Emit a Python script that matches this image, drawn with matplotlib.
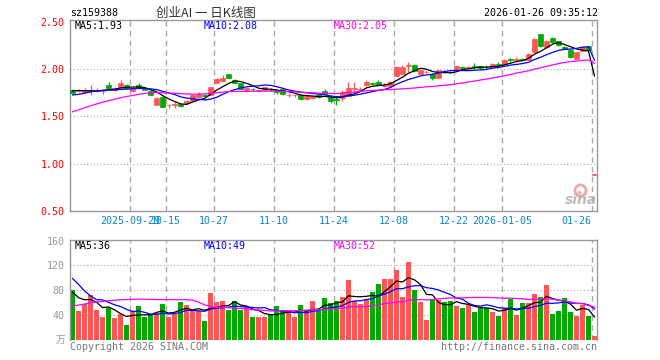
import numpy as np
import pandas as pd
import matplotlib
matplotlib.use("Agg")
import matplotlib.pyplot as plt

# daily bars, 88 sessions, last one is the (odd) intraday print of 01-26
opens = [1.78, 1.765, 1.76, 1.765, 1.77, 1.765, 1.835, 1.775, 1.81, 1.835,
         1.765, 1.83, 1.80, 1.77, 1.625, 1.705, 1.615, 1.625, 1.63, 1.64,
         1.665, 1.70, 1.725, 1.73, 1.855, 1.87, 1.945, 1.885, 1.85, 1.77,
         1.79, 1.77, 1.78, 1.78, 1.78, 1.79, 1.725, 1.725, 1.725, 1.68,
         1.69, 1.73, 1.77, 1.70, 1.68, 1.69, 1.72, 1.79, 1.78, 1.83,
         1.85, 1.86, 1.82, 1.825, 1.93, 1.95, 2.03, 2.045, 1.95, 1.965,
         1.95, 1.905, 1.98, 1.97, 1.985, 2.025, 2.01, 2.035, 2.03, 2.025,
         2.02, 2.055, 2.05, 2.105, 2.10, 2.11, 2.10, 2.18, 2.37, 2.23,
         2.33, 2.295, 2.23, 2.205, 2.11, 2.195, 2.24, 0.885]
highs = [1.785, 1.785, 1.80, 1.835, 1.80, 1.79, 1.86, 1.81, 1.88, 1.84,
         1.81, 1.85, 1.81, 1.775, 1.70, 1.71, 1.635, 1.65, 1.64, 1.67,
         1.74, 1.76, 1.735, 1.815, 1.90, 1.935, 1.95, 1.895, 1.855, 1.805,
         1.80, 1.79, 1.81, 1.795, 1.79, 1.80, 1.745, 1.74, 1.73, 1.725,
         1.72, 1.74, 1.785, 1.705, 1.71, 1.78, 1.865, 1.865, 1.81, 1.88,
         1.865, 1.88, 1.85, 1.87, 2.03, 2.04, 2.07, 2.05, 1.99, 1.985,
         1.955, 1.995, 1.99, 1.98, 2.035, 2.035, 2.03, 2.06, 2.035, 2.045,
         2.06, 2.07, 2.105, 2.115, 2.125, 2.12, 2.165, 2.325, 2.375, 2.305,
         2.34, 2.30, 2.24, 2.21, 2.185, 2.24, 2.245, 0.895]
lows = [1.74, 1.755, 1.75, 1.73, 1.76, 1.735, 1.79, 1.77, 1.80, 1.795,
        1.76, 1.79, 1.775, 1.725, 1.62, 1.595, 1.59, 1.59, 1.595, 1.635,
        1.66, 1.69, 1.715, 1.725, 1.85, 1.86, 1.905, 1.845, 1.78, 1.76,
        1.77, 1.76, 1.775, 1.765, 1.735, 1.73, 1.705, 1.70, 1.675, 1.675,
        1.685, 1.695, 1.73, 1.64, 1.62, 1.66, 1.71, 1.75, 1.77, 1.825,
        1.83, 1.83, 1.81, 1.82, 1.925, 1.945, 1.97, 1.97, 1.945, 1.955,
        1.88, 1.90, 1.96, 1.955, 1.98, 2.005, 2.0, 2.0, 2.0, 2.005,
        2.01, 2.03, 2.045, 2.07, 2.09, 2.09, 2.095, 2.175, 2.235, 2.225,
        2.28, 2.245, 2.21, 2.12, 2.105, 2.19, 2.20, 0.88]
closes = [1.745, 1.77, 1.775, 1.78, 1.775, 1.775, 1.80, 1.80, 1.85, 1.80,
          1.80, 1.795, 1.78, 1.73, 1.695, 1.60, 1.625, 1.635, 1.605, 1.665,
          1.725, 1.735, 1.72, 1.81, 1.89, 1.905, 1.91, 1.85, 1.785, 1.795,
          1.785, 1.775, 1.805, 1.775, 1.755, 1.735, 1.73, 1.73, 1.68, 1.72,
          1.715, 1.70, 1.735, 1.66, 1.67, 1.755, 1.80, 1.80, 1.79, 1.86,
          1.84, 1.835, 1.835, 1.86, 2.02, 2.02, 2.04, 1.975, 1.985, 1.97,
          1.90, 1.985, 1.975, 1.965, 2.03, 2.015, 2.025, 2.025, 2.01, 2.02,
          2.05, 2.04, 2.10, 2.095, 2.11, 2.10, 2.16, 2.32, 2.24, 2.30,
          2.29, 2.25, 2.215, 2.125, 2.18, 2.23, 2.205, 0.89]
volumes = [80, 46, 58, 72, 48, 37, 51, 35, 42, 24,
           46, 54, 37, 42, 43, 58, 37, 43, 61, 56,
           46, 46, 30, 76, 61, 62, 48, 62, 49, 53,
           37, 37, 37, 40, 54, 48, 45, 37, 56, 46,
           62, 47, 68, 60, 62, 70, 96, 62, 58, 66,
           77, 90, 98, 98, 112, 69, 125, 80, 61, 32,
           65, 65, 61, 62, 55, 51, 58, 45, 52, 52,
           45, 39, 51, 66, 40, 60, 60, 74, 70, 88,
           42, 47, 67, 45, 39, 56, 39, 6]

# sessions before the window, only needed to start the moving averages
prev_close = [1.12, 1.14, 1.16, 1.19, 1.22, 1.30, 1.35, 1.38, 1.42, 1.46,
              1.44, 1.47, 1.55, 1.62, 1.66, 1.70, 1.72, 1.74, 1.75, 1.79,
              1.70, 1.66, 1.64, 1.68, 1.73, 1.75, 1.79, 1.78, 1.78]
prev_vol = [8, 9, 10, 11, 12, 12, 14, 18, 20, 30,
            40, 45, 50, 55, 56, 40, 50, 55, 60, 65,
            140, 165, 150, 110, 40, 90, 75, 70, 70]

tick_idx = [10, 16, 24, 34, 44, 54, 64, 72, 87]
tick_labels = ["2025-09-29", "10-15", "10-27", "11-10", "11-24", "12-08",
               "12-22", "2026-01-05", "01-26"]

price_legend = ["MA5:1.93", "MA10:2.08", "MA30:2.05"]
vol_legend = ["MA5:36", "MA10:49", "MA30:52"]
ma_colors = ["black", "#0000ff", "#ff00ff"]

RED = "#ff5555"
GREEN = "#00a800"
GRID = "#aaaaaa"
DATE_BLUE = "#0a84c8"
MONO = "DejaVu Sans Mono"
CJK = ["Noto Sans CJK SC", "DejaVu Sans"]

n = len(closes)
x = np.arange(n)
o = np.array(opens)
c = np.array(closes)
up = c >= o
colors = [RED if u else GREEN for u in up]

close_all = pd.Series(prev_close + closes)
vol_all = pd.Series(prev_vol + volumes)
skip = len(prev_close)


def px(xp, yp):
    return xp / 660, 1 - yp / 360


fig = plt.figure(figsize=(6.6, 3.6), dpi=100)
ax = fig.add_axes([70 / 660, 1 - 211 / 360, 527 / 660, 191 / 360])
axv = fig.add_axes([70 / 660, 1 - 340 / 360, 527 / 660, 100 / 360])

for a in (ax, axv):
    a.set_xlim(-0.42, n - 0.58)
    for s in a.spines.values():
        s.set_color("#999999")
        s.set_linewidth(1)
    a.tick_params(length=0)
    a.set_xticks([])
    for t in tick_idx:
        a.axvline(t - 0.42, color=GRID, lw=1, ls=(0, (4, 3)), zorder=0)

# price panel
ax.set_ylim(0.5, 2.518)
for g in (1.0, 1.5, 2.0):
    ax.axhline(g, color=GRID, lw=0.8, ls=(0, (1, 2)), zorder=0)
ax.vlines(x, lows, highs, colors=colors, lw=0.9, zorder=2)
ax.bar(x, np.abs(c - o), bottom=np.minimum(o, c), width=0.83, color=colors,
       edgecolor=colors, linewidth=0.5, zorder=3)
for win, col in zip([5, 10, 30], ma_colors):
    ma = close_all.rolling(win).mean().values[skip:]
    ax.plot(x, ma, color=col, lw=0.9, zorder=4)
ax.set_yticks([0.5, 1.0, 1.5, 2.0, 2.5])
ax.set_yticklabels(["%.2f" % v for v in [0.5, 1.0, 1.5, 2.0, 2.5]],
                   color="red", fontsize=7.2, family=MONO)
ax.tick_params(axis="y", pad=4)

for t, lab in zip(tick_idx, tick_labels):
    ha = "right" if t == tick_idx[-1] else "center"
    xt = t - 0.5 if ha == "right" else t - 0.42
    ax.text(xt, -0.052, lab, transform=ax.get_xaxis_transform(), ha=ha,
            va="center", color=DATE_BLUE, fontsize=7.2, family=MONO)

# sina watermark (eye + word)
ax.plot([0.968], [0.108], transform=ax.transAxes, marker="o", ms=8,
        mfc="none", mec="#f4a8a8", mew=2, zorder=5, clip_on=False)
ax.plot([0.966], [0.100], transform=ax.transAxes, marker="o", ms=2.5,
        mfc="#f4a8a8", mec="none", zorder=5, clip_on=False)
ax.text(1.0, 0.02, "sina", transform=ax.transAxes, ha="right", va="bottom",
        color="#b4b4b4", fontsize=10, style="italic", weight="bold",
        alpha=0.9, zorder=6)

# volume panel
axv.set_ylim(0, 161)
for g in (40, 80, 120):
    axv.axhline(g, color=GRID, lw=0.8, ls=(0, (1, 2)), zorder=0)
axv.bar(x, volumes, width=0.83, color=colors, linewidth=0, zorder=2)
for win, col in zip([5, 10, 30], ma_colors):
    ma = vol_all.rolling(win).mean().values[skip:]
    axv.plot(x, ma, color=col, lw=0.9, zorder=4)
axv.set_yticks([40, 80, 120, 160])
axv.set_yticklabels(["40", "80", "120", "160"], color="#999999",
                    fontsize=7.2, family=MONO)
axv.tick_params(axis="y", pad=4)
axv.spines["bottom"].set_visible(False)

# header and legends
fig.text(*px(70, 13), "sz159388", ha="left", va="center", fontsize=7.2,
         family=MONO, color="black")
fig.text(*px(206, 13), "创业AI 一 日K线图", ha="center", va="center",
         fontsize=9, family=CJK, color="#333333")
fig.text(*px(598, 13), "2026-01-26 09:35:12", ha="right", va="center",
         fontsize=7.2, family=MONO, color="black")
for xp, lab, col in zip([75, 204, 334], price_legend, ma_colors):
    fig.text(*px(xp, 26), lab, ha="left", va="center", fontsize=7.2,
             family=MONO, color=col)
for xp, lab, col in zip([75, 204, 334], vol_legend, ma_colors):
    fig.text(*px(xp, 246), lab, ha="left", va="center", fontsize=7.2,
             family=MONO, color=col)
fig.text(*px(65, 340), "万", ha="right", va="center", fontsize=7,
         family=CJK, color="#999999")
fig.text(*px(70, 347), "Copyright 2026 SINA.COM", ha="left", va="center",
         fontsize=7.2, family=MONO, color="#777777")
fig.text(*px(597, 347), "http://finance.sina.com.cn", ha="right",
         va="center", fontsize=7.2, family=MONO, color="#777777")

fig.savefig("out.png", dpi=100)
